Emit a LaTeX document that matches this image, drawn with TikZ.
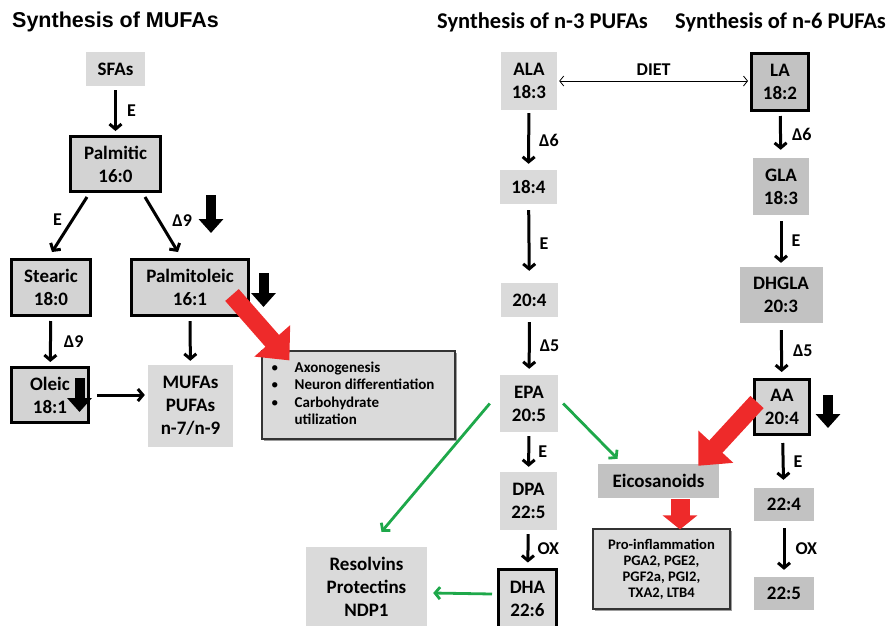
\documentclass[tikz,border=0pt]{standalone}
\usepackage{fontspec}
\setmainfont{Carlito}
\newfontfamily\arialfont{Liberation Sans}
\usetikzlibrary{arrows.meta,calc,shadows}
\definecolor{lightbox}{HTML}{DADADA}
\definecolor{darkbox}{HTML}{C2C2C2}
\definecolor{midbox}{HTML}{D3D3D3}
\definecolor{arrgreen}{HTML}{1EA84A}
\definecolor{arrred}{HTML}{EE2A2A}
\newcommand\boxfont{\bfseries\fontsize{19}{23}\selectfont}
\begin{document}
\begin{tikzpicture}[x=1pt,y=-1pt,
  box/.style={inner sep=0pt, align=center, font=\boxfont, text=black},
  light/.style={box, fill=lightbox},
  dark/.style={box, fill=darkbox},
  thickbox/.style={box, fill=midbox, draw=black, line width=3pt},
  shadowbox/.style={box, fill=lightbox, draw=black!80, line width=1.2pt,
     drop shadow={shadow xshift=2pt, shadow yshift=-2pt, fill=black!55, opacity=0.7}},
  arr/.style={line width=3pt, -{Straight Barb[length=5pt,width=12pt]}},
  garr/.style={arrgreen, line width=2.8pt, -{Straight Barb[length=5pt,width=12pt]}},
  thinarr/.style={line width=0.8pt, {Straight Barb[length=4pt,width=10pt]}-{Straight Barb[length=4pt,width=10pt]}},
  blk/.style={line width=10pt, -{Triangle[length=14pt,width=24pt]}},
  redarr/.style={arrred, line width=18pt, -{Triangle[length=26pt,width=46pt]}},
  lbl/.style={font=\bfseries\fontsize{18}{18}\selectfont, inner sep=0pt},
  ttl/.style={anchor=west, inner sep=0pt, font=\bfseries\fontsize{22.5}{24}\selectfont}
]
\useasboundingbox (0,0) rectangle (887,625);

% titles
\node[ttl, font=\arialfont\bfseries\fontsize{21.5}{24}\selectfont] (t1) at (12,22) {Synthesis of MUFAs};
\node[ttl] (t2) at (437,22) {Synthesis of n-3 PUFAs};
\node[ttl] (t3) at (675,22) {Synthesis of n-6 PUFAs};

% MUFA nodes
\node[light, minimum width=59pt, minimum height=34pt] (sfa) at (115.5,69) {SFAs};
\node[thickbox, minimum width=90pt, minimum height=55pt] (palm) at (115.5,164) {Palmitic\\16:0};
\node[thickbox, minimum width=79pt, minimum height=56pt] (stear) at (51,287.5) {Stearic\\18:0};
\node[thickbox, minimum width=117pt, minimum height=56pt] (palmo) at (190,287.5) {Palmitoleic\\16:1};
\node[thickbox, minimum width=77pt, minimum height=55pt] (oleic) at (50,395) {Oleic\\18:1};
\node[light, minimum width=85pt, minimum height=82pt] (mufa) at (190.5,406) {MUFAs\\PUFAs\\n-7/n-9};
\node[shadowbox, minimum width=193pt, minimum height=88pt] (info) at (358.5,395) {};
\node[anchor=north west, inner sep=0pt, font=\bfseries\fontsize{15}{17.5}\selectfont] (infotext) at (271,360)
  {\begin{tabular}{@{}c@{\hspace{16pt}}l@{}}\textmd{•} & Axonogenesis\\ \textmd{•} & Neuron differentiation\\ \textmd{•} & Carbohydrate\\ & utilization\end{tabular}};

% n-3 nodes
\node[light, minimum width=56pt, minimum height=58pt] (ala) at (529,81) {ALA\\18:3};
\node[light, minimum width=57pt, minimum height=34pt] (c184) at (528.5,187) {18:4};
\node[light, minimum width=57pt, minimum height=34pt] (c204) at (529.5,300) {20:4};
\node[light, minimum width=58pt, minimum height=57pt] (epa) at (529,403.5) {EPA\\20:5};
\node[light, minimum width=57pt, minimum height=58pt] (dpa) at (528.5,501) {DPA\\22:5};
\node[thickbox, fill=lightbox, minimum width=58pt, minimum height=60pt] (dha) at (527.5,599) {DHA\\22:6};
\node[light, minimum width=121pt, minimum height=79pt] (resolv) at (366.5,586.5) {Resolvins\\Protectins\\NDP1};

% n-6 nodes
\node[thickbox, fill=darkbox, minimum width=57pt, minimum height=57pt] (la) at (780,82) {LA\\18:2};
\node[dark, minimum width=56pt, minimum height=57pt] (gla) at (781,186.5) {GLA\\18:3};
\node[dark, minimum width=83pt, minimum height=56pt] (dhgla) at (781,295) {DHGLA\\20:3};
\node[thickbox, minimum width=55pt, minimum height=55pt] (aa) at (782,407) {AA\\20:4};
\node[dark, minimum width=60pt, minimum height=33pt] (c224) at (784,504.5) {22:4};
\node[dark, minimum width=60pt, minimum height=33pt] (c225) at (784,593.5) {22:5};
\node[dark, minimum width=121pt, minimum height=34pt] (eico) at (658.5,481) {Eicosanoids};
\node[shadowbox, minimum width=137pt, minimum height=80pt, font=\bfseries\fontsize{14.6}{16}\selectfont] (proinf) at (661.5,569)
  {Pro-inflammation\\PGA2, PGE2,\\PGF2a, PGI2,\\TXA2, LTB4};

% MUFA arrows
\draw[arr, shorten <=4pt, shorten >=4pt] (sfa) -- node[lbl, right=10pt]{E} (palm);
\draw[arr] ($(palm.south)+(-28.5,4)$) -- node[lbl, pos=0.42, left=9pt]{E} ($(stear.north)+(1,-6)$);
\draw[arr] ($(palm.south)+(29.5,4)$) -- node[lbl, pos=0.42, right=12pt]{Δ9} ($(palmo.north)+(-12,-6)$);
\draw[arr, shorten <=4pt, shorten >=4pt] (stear) -- node[lbl, right=12pt]{Δ9} (oleic);
\draw[arr, shorten <=4pt, shorten >=4pt] (palmo) -- (mufa);
\draw[arr, shorten <=7pt, shorten >=3pt] (oleic.east) -- (oleic.east -| mufa.west);

% n-3 arrows
\draw[thinarr, shorten <=2pt, shorten >=2pt] (ala.east) -- node[lbl, above=5pt]{DIET} (ala.east -| la.west);
\draw[arr, shorten <=3pt, shorten >=6pt] (ala) -- node[lbl, right=9pt]{Δ6} (c184);
\draw[arr, shorten <=6pt, shorten >=12pt] (c184) -- node[lbl, right=9pt]{E} (c204);
\draw[arr, shorten <=5pt, shorten >=6pt] (c204) -- node[lbl, right=9pt]{Δ5} (epa);
\draw[arr, shorten <=4pt, shorten >=5pt] (epa) -- node[lbl, right=8pt]{E} (dpa);
\draw[arr, shorten <=4pt, shorten >=5pt] (dpa) -- node[lbl, right=8pt]{OX} (dha);

% n-6 arrows
\draw[arr, shorten <=4pt, shorten >=8pt] (la) -- node[lbl, right=10pt]{Δ6} (gla);
\draw[arr, shorten <=6pt, shorten >=4pt] (gla) -- node[lbl, right=9pt]{E} (dhgla);
\draw[arr, shorten <=7pt, shorten >=6pt] (dhgla) -- node[lbl, right=10pt]{Δ5} (aa);
\draw[arr, shorten <=7pt, shorten >=8pt] (aa) -- node[lbl, right=9pt]{E} (c224);
\draw[arr, shorten <=7pt, shorten >=7pt] (c224) -- node[lbl, right=10pt]{OX} (c225);

% green arrows
\draw[garr] ($(epa.west)+(-10,0)$) -- ($(resolv.north)+(15,-15)$);
\draw[garr] ($(epa.east)+(5,0)$) -- ($(eico.north)+(-41,-5)$);
\draw[garr] ($(dha.west)+(-5,-5)$) -- ($(resolv.east)+(6,6.5)$);

% red arrows
\draw[redarr] ($(palmo.south east)+(-18,-22)$) -- ($(info.north west)+(28,10)$);
\draw[redarr] ($(aa.west)+(4,-5)$) -- ($(eico.north east)+(-21,2)$);
\draw[arrred, line width=19pt, -{Triangle[length=14pt,width=34pt]}] ($(eico.south)+(21.5,1)$) -- ($(proinf.north)+(18.5,1)$);

% black block arrows
\draw[blk] (211,195) -- (211,233);
\draw[blk] (263.5,273) -- (263.5,307);
\draw[blk] (79.5,378) -- (79.5,412);
\draw[blk] (828,395) -- (828,428);
\end{tikzpicture}
\end{document}
